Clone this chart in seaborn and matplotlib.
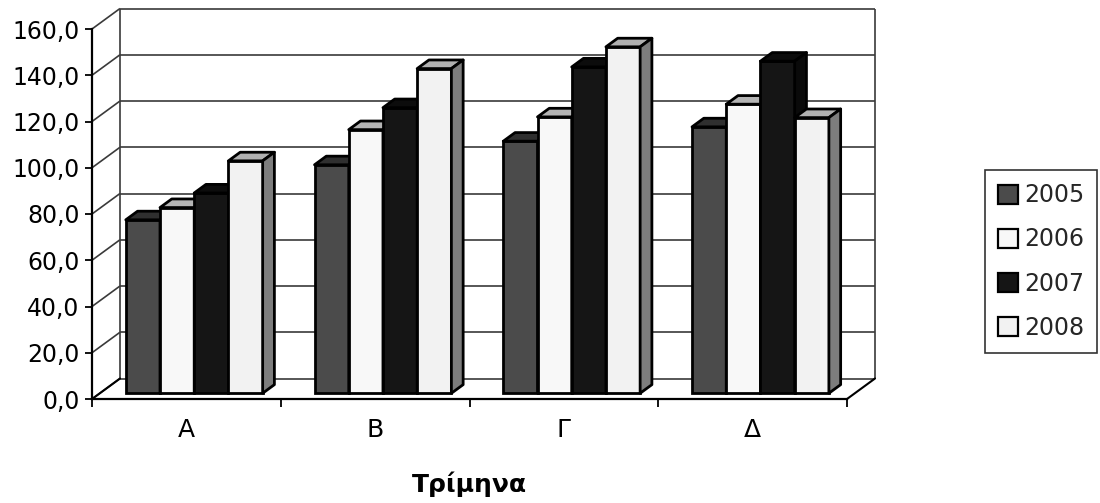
import numpy as np
import pandas as pd
import matplotlib
matplotlib.use("Agg")
import matplotlib.pyplot as plt
from matplotlib.patches import Polygon, Patch
from matplotlib.ticker import FuncFormatter
import seaborn as sns

# ---- data -------------------------------------------------------------
quarters = ["Α", "Β", "Γ", "Δ"]
years = ["2005", "2006", "2007", "2008"]
v2005 = [75.0, 98.8, 109.0, 115.2]
v2006 = [80.3, 114.0, 119.5, 125.0]
v2007 = [86.6, 123.5, 141.1, 143.6]
v2008 = [100.5, 140.4, 149.8, 119.2]
y_ticks = [0, 20, 40, 60, 80, 100, 120, 140, 160]
x_title = "Τρίμηνα"

# ---- styles -----------------------------------------------------------
front_colors = ["#4b4b4b", "#f8f8f8", "#151515", "#f2f2f2"]
top_colors = ["#2f2f2f", "#b4b4b4", "#0c0c0c", "#b0b0b0"]
side_colors = ["#2a2a2a", "#7c7c7c", "#0a0a0a", "#7d7d7d"]
grid_color = "#3a3a3a"

sns.set_style("white")
plt.rcParams["font.family"] = ["DejaVu Sans"]

df = pd.DataFrame({
    "quarter": quarters * 4,
    "year": np.repeat(years, 4),
    "value": v2005 + v2006 + v2007 + v2008,
})

W, H = 1100, 503
fig = plt.figure(figsize=(W / 100, H / 100), dpi=100)
ax_l, ax_b, ax_w, ax_h = 92, 104, 755, 370          # front plane in pixels
ax = fig.add_axes([ax_l / W, ax_b / H, ax_w / W, ax_h / H])

sns.barplot(
    data=df, x="quarter", y="value", hue="year",
    order=quarters, hue_order=years,
    palette=dict(zip(years, front_colors)), saturation=1,
    width=0.725, gap=0, errorbar=None, legend=False,
    edgecolor="black", linewidth=2, ax=ax,
)

XMIN, XMAX, YMIN, YMAX = -0.5, 3.5, 0, 160
ax.set_xlim(XMIN, XMAX)
ax.set_ylim(YMIN, YMAX)

# depth of the box (front plane -> back wall) in data units
px_x = ax_w / (XMAX - XMIN)
px_y = ax_h / (YMAX - YMIN)
WX = 28 / px_x
WY = 20.5 / px_y
F0, F1 = 0.28, 0.70     # depth range occupied by the bars
DX, DY = (F1 - F0) * WX, (F1 - F0) * WY

# ---- walls and floor --------------------------------------------------
line_kw = dict(color=grid_color, lw=1.2, clip_on=False, zorder=1,
               solid_capstyle="butt")
for v in y_ticks:
    ax.plot([XMIN + WX, XMAX + WX], [v + WY, v + WY], **line_kw)
    ax.plot([XMIN, XMIN + WX], [v, v + WY], **line_kw)
ax.plot([XMIN + WX, XMIN + WX], [WY, YMAX + WY], **line_kw)
ax.plot([XMAX + WX, XMAX + WX], [WY, YMAX + WY], **line_kw)
ax.plot([XMAX, XMAX + WX], [0, WY], color="black", lw=1.5, clip_on=False, zorder=1)
ax.plot([XMIN, XMIN + WX], [0, WY], color="black", lw=1.5, clip_on=False, zorder=1)

# ---- 3-D bars: shift front faces into depth, add tops and sides -------
bars = sorted(ax.patches, key=lambda p: p.get_x())
for i, p in enumerate(bars):
    k = i % len(years)
    x0 = p.get_x() + F0 * WX
    y0 = F0 * WY
    w = p.get_width()
    h = p.get_height()
    p.set_x(x0)
    p.set_y(y0)
    p.set_zorder(3 + k)
    p.set_clip_on(False)
    x1, yt = x0 + w, y0 + h
    top = Polygon([(x0, yt), (x1, yt), (x1 + DX, yt + DY), (x0 + DX, yt + DY)],
                  closed=True, facecolor=top_colors[k], edgecolor="black",
                  lw=2, joinstyle="round", zorder=3 + k, clip_on=False)
    side = Polygon([(x1, y0), (x1 + DX, y0 + DY), (x1 + DX, yt + DY), (x1, yt)],
                   closed=True, facecolor=side_colors[k], edgecolor="black",
                   lw=2, joinstyle="round", zorder=3 + k, clip_on=False)
    ax.add_patch(top)
    ax.add_patch(side)

# ---- axes, ticks, labels ----------------------------------------------
for s in ["top", "right"]:
    ax.spines[s].set_visible(False)
for s in ["left", "bottom"]:
    ax.spines[s].set_color("black")
    ax.spines[s].set_linewidth(1.6)
    ax.spines[s].set_zorder(2)

ax.set_yticks(y_ticks)
ax.yaxis.set_major_formatter(FuncFormatter(lambda v, _: f"{v:.1f}".replace(".", ",")))
ax.tick_params(axis="y", length=5, width=1.3, color="black", pad=4,
               labelsize=17, labelcolor="black", left=True)

ax.set_xticks(range(len(quarters)))
ax.set_xticklabels(quarters)
ax.set_xticks(np.arange(XMIN, XMAX + 0.5, 1), minor=True)
ax.tick_params(axis="x", which="major", length=0, pad=14, labelsize=18,
               labelcolor="black")
ax.tick_params(axis="x", which="minor", length=6, width=1.3, color="black",
               bottom=True)

ax.set_ylabel("")
ax.set_xlabel(x_title, fontsize=18, fontweight="bold", color="black")
ax.xaxis.set_label_coords(0.5, -0.251)
ax.xaxis.label.set_va("baseline")

handles = [Patch(facecolor=c, edgecolor="black", linewidth=1.6, label=y)
           for c, y in zip(front_colors, years)]
leg = ax.legend(
    handles=handles, loc="center left",
    bbox_to_anchor=((985 - ax_l) / ax_w, (399 - 261.5) / ax_h),
    frameon=True, fancybox=False, edgecolor="black", fontsize=17,
    handlelength=0.85, handleheight=0.85, handletextpad=0.25,
    labelspacing=0.85, borderpad=0.55, borderaxespad=0,
)
leg.get_frame().set_linewidth(1.2)

fig.savefig("out.png", dpi=100, facecolor="white")
